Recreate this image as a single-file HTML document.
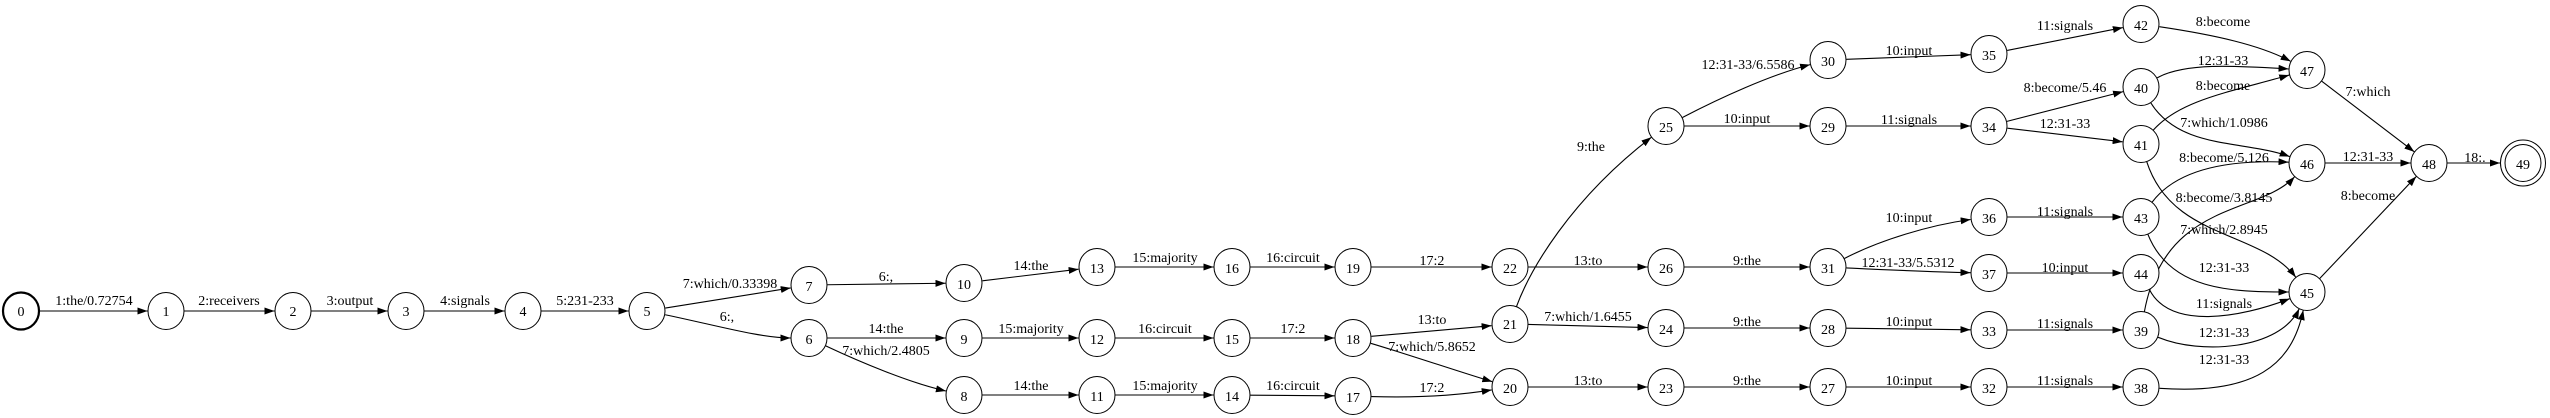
<!DOCTYPE html>
<html><head><meta charset="utf-8"><style>
html,body{margin:0;padding:0;background:#fff;width:2550px;height:418px;overflow:hidden}
svg{display:block}
text{font-family:"Liberation Serif",serif;font-size:14px;fill:#000}
.n{text-anchor:middle}
.l{text-anchor:middle}
</style></head><body>
<svg id="s" width="2550" height="418" viewBox="0 0 2550 418" xmlns="http://www.w3.org/2000/svg">
<defs><marker id="a" markerWidth="10" markerHeight="7" refX="10" refY="3.5" orient="auto" markerUnits="userSpaceOnUse"><path d="M0,0 L10,3.5 L0,7 z" fill="#000"/></marker></defs>
<g id="edges"></g>
<g id="nodes" fill="#fff" stroke="#000" stroke-width="1"></g>
<g id="nt">
<text class="n" x="21" y="316">0</text><text class="n" x="166" y="316">1</text><text class="n" x="293" y="316">2</text><text class="n" x="406" y="316">3</text><text class="n" x="523" y="316">4</text><text class="n" x="647" y="316">5</text>
<text class="n" x="809" y="291">7</text><text class="n" x="809" y="344">6</text><text class="n" x="964" y="401">8</text><text class="n" x="964" y="289">10</text><text class="n" x="964" y="344">9</text>
<text class="n" x="1097" y="273">13</text><text class="n" x="1097" y="344">12</text><text class="n" x="1097" y="401">11</text>
<text class="n" x="1232" y="273">16</text><text class="n" x="1232" y="344">15</text><text class="n" x="1232" y="401">14</text>
<text class="n" x="1353" y="273">19</text><text class="n" x="1353" y="344">18</text><text class="n" x="1353" y="402">17</text>
<text class="n" x="1510" y="273">22</text><text class="n" x="1510" y="329">21</text><text class="n" x="1510" y="393">20</text>
<text class="n" x="1666" y="132">25</text><text class="n" x="1666" y="273">26</text><text class="n" x="1666" y="334">24</text><text class="n" x="1666" y="393">23</text>
<text class="n" x="1828" y="66">30</text><text class="n" x="1828" y="132">29</text><text class="n" x="1828" y="273">31</text><text class="n" x="1828" y="334">28</text><text class="n" x="1828" y="393">27</text>
<text class="n" x="1989" y="60">35</text><text class="n" x="1989" y="132">34</text><text class="n" x="1989" y="223">36</text><text class="n" x="1989" y="279">37</text><text class="n" x="1989" y="336">33</text><text class="n" x="1989" y="393">32</text>
<text class="n" x="2141" y="30">42</text><text class="n" x="2141" y="93">40</text><text class="n" x="2141" y="150">41</text><text class="n" x="2141" y="223">43</text><text class="n" x="2141" y="279">44</text><text class="n" x="2141" y="336">39</text><text class="n" x="2141" y="393">38</text>
<text class="n" x="2307" y="76">47</text><text class="n" x="2307" y="169">46</text><text class="n" x="2307" y="298">45</text><text class="n" x="2429" y="169">48</text><text class="n" x="2523" y="169">49</text>
</g>
<g id="lt">
<text class="l" x="94" y="305">1:the/0.72754</text>
<text class="l" x="229" y="305">2:receivers</text>
<text class="l" x="350" y="305">3:output</text>
<text class="l" x="465" y="305">4:signals</text>
<text class="l" x="585" y="305">5:231-233</text>
<text class="l" x="730" y="288">7:which/0.33398</text>
<text class="l" x="727" y="321">6:,</text>
<text class="l" x="886" y="281">6:,</text>
<text class="l" x="1031" y="270">14:the</text>
<text class="l" x="1165" y="262">15:majority</text>
<text class="l" x="1293" y="262">16:circuit</text>
<text class="l" x="1432" y="265">17:2</text>
<text class="l" x="886" y="333">14:the</text>
<text class="l" x="886" y="355">7:which/2.4805</text>
<text class="l" x="1031" y="333">15:majority</text>
<text class="l" x="1165" y="333">16:circuit</text>
<text class="l" x="1293" y="333">17:2</text>
<text class="l" x="1031" y="390">14:the</text>
<text class="l" x="1165" y="390">15:majority</text>
<text class="l" x="1293" y="390">16:circuit</text>
<text class="l" x="1432" y="392">17:2</text>
<text class="l" x="1432" y="324">13:to</text>
<text class="l" x="1432" y="351">7:which/5.8652</text>
<text class="l" x="1591" y="151">9:the</text>
<text class="l" x="1588" y="265">13:to</text>
<text class="l" x="1588" y="321">7:which/1.6455</text>
<text class="l" x="1588" y="385">13:to</text>
<text class="l" x="1748" y="69">12:31-33/6.5586</text>
<text class="l" x="1747" y="123">10:input</text>
<text class="l" x="1747" y="265">9:the</text>
<text class="l" x="1747" y="326">9:the</text>
<text class="l" x="1747" y="385">9:the</text>
<text class="l" x="1909" y="55">10:input</text>
<text class="l" x="1909" y="124">11:signals</text>
<text class="l" x="1909" y="222">10:input</text>
<text class="l" x="1908" y="267">12:31-33/5.5312</text>
<text class="l" x="1909" y="326">10:input</text>
<text class="l" x="1909" y="385">10:input</text>
<text class="l" x="2065" y="30">11:signals</text>
<text class="l" x="2065" y="92">8:become/5.46</text>
<text class="l" x="2065" y="128">12:31-33</text>
<text class="l" x="2065" y="216">11:signals</text>
<text class="l" x="2065" y="272">10:input</text>
<text class="l" x="2065" y="328">11:signals</text>
<text class="l" x="2065" y="385">11:signals</text>
<text class="l" x="2223" y="26">8:become</text>
<text class="l" x="2223" y="65">12:31-33</text>
<text class="l" x="2223" y="90">8:become</text>
<text class="l" x="2224" y="127">7:which/1.0986</text>
<text class="l" x="2224" y="162">8:become/5.126</text>
<text class="l" x="2224" y="202">8:become/3.8145</text>
<text class="l" x="2224" y="234">7:which/2.8945</text>
<text class="l" x="2224" y="272">12:31-33</text>
<text class="l" x="2224" y="308">11:signals</text>
<text class="l" x="2224" y="337">12:31-33</text>
<text class="l" x="2224" y="364">12:31-33</text>
<text class="l" x="2368" y="96">7:which</text>
<text class="l" x="2368" y="161">12:31-33</text>
<text class="l" x="2368" y="200">8:become</text>
<text class="l" x="2475" y="162">18:.</text>
</g>
</svg>
<script>
var N={0:[21,311],1:[166,311],2:[293,311],3:[406,311],4:[523,311],5:[647,311],
7:[809,285],6:[809,338],8:[964,395],10:[964,283],9:[964,338],
13:[1097,267],12:[1097,338],11:[1097,395],16:[1232,267],15:[1232,338],14:[1232,395],
19:[1353,267],18:[1353,338],17:[1353,396],22:[1510,267],21:[1510,324],20:[1510,387],
25:[1666,126],26:[1666,267],24:[1666,328],23:[1666,387],
30:[1828,60],29:[1828,126],31:[1828,267],28:[1828,328],27:[1828,387],
35:[1989,54],34:[1989,126],36:[1989,217],37:[1989,273],33:[1989,330],32:[1989,387],
42:[2141,24],40:[2141,87],41:[2141,144],43:[2141,217],44:[2141,273],39:[2141,330],38:[2141,387],
47:[2307,70],46:[2307,163],45:[2307,292],48:[2429,163],49:[2523,163]};
var E=[[0,1],[1,2],[2,3],[3,4],[4,5],[5,7],[5,6,[715,325],[760,338]],[7,10],[10,13],[13,16],[16,19],[19,22],
[6,9],[6,8,[860,362],[910,383]],[9,12],[12,15],[15,18],[8,11],[11,14],[14,17],[17,20,[1420,398],[1460,395]],
[18,21],[18,20,[1410,355],[1460,372]],[21,25,[1530,270],[1570,200]],[22,26],[21,24],[20,23],
[25,30,[1720,98],[1770,75]],[25,29],[26,31],[24,28],[23,27],
[30,35],[29,34],[31,36,[1880,240],[1930,225]],[31,37,[1890,270],[1930,272]],[28,33],[27,32],
[35,42],[34,40],[34,41],[36,43],[37,44],[33,39],[32,38],
[42,47,[2215,35],[2260,45]],[40,47,[2185,62],[2240,66]],[41,47,[2180,100],[2230,92]],
[40,46,[2180,150],[2245,140]],[43,46,[2180,165],[2240,160]],[39,46,[2165,200],[2260,215]],
[41,45,[2172,240],[2260,230]],[43,45,[2170,290],[2230,292]],[44,45,[2170,330],[2240,318]],
[39,45,[2200,355],[2280,350]],[38,45,[2255,395],[2292,365]],
[47,48],[46,48],[45,48],[48,49]];
var ns="http://www.w3.org/2000/svg",ge=document.getElementById("edges"),gn=document.getElementById("nodes");
function R(id){return id==49?23:18.5}
function bp(c,t,r){var dx=t[0]-c[0],dy=t[1]-c[1],d=Math.hypot(dx,dy)||1;return [c[0]+dx/d*r,c[1]+dy/d*r]}
E.forEach(function(e){var a=N[e[0]],b=N[e[1]],c1=e[2]||b,c2=e[3]||a;
var s=bp(a,c1,R(e[0])),t=bp(b,c2,R(e[1]));var d;
if(e[2])d="M"+s+" C"+c1+" "+c2+" "+t;else d="M"+s+" L"+t;
var p=document.createElementNS(ns,"path");p.setAttribute("d",d);p.setAttribute("fill","none");p.setAttribute("stroke","#000");p.setAttribute("stroke-width","1.1");p.setAttribute("marker-end","url(#a)");ge.appendChild(p);});
for(var k in N){var c=document.createElementNS(ns,"ellipse");c.setAttribute("cx",N[k][0]);c.setAttribute("cy",N[k][1]);c.setAttribute("rx",18);c.setAttribute("ry",18.5);if(k=="0")c.setAttribute("stroke-width","2.2");gn.appendChild(c);
if(k=="49"){var o=document.createElementNS(ns,"ellipse");o.setAttribute("cx",N[k][0]);o.setAttribute("cy",N[k][1]);o.setAttribute("rx",22.5);o.setAttribute("ry",23);o.setAttribute("fill","none");gn.appendChild(o);}}
</script>
</body></html>
